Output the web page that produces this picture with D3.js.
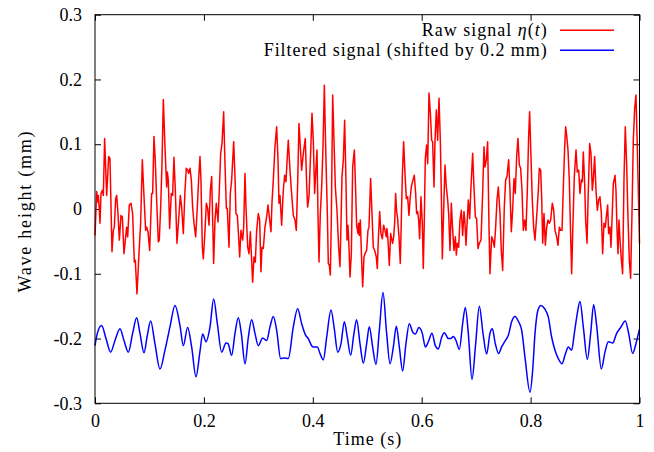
<html>

<head>
  <title>Wave height</title>
  <style>
    body { margin: 0; background: #fff; }
    text { font-family: "Liberation Serif", "DejaVu Serif", serif; fill: #000; }
  </style>
</head>

<body>
  <script src="https://d3js.org/d3.v7.min.js"></script>
  <script>
    // raw signal eta(t): [time (s), height (mm)]
    var rawSignal = [
      [0.0000,-0.041],[0.0031,0.027],[0.0049,0.011],[0.0061,0.021],[0.0080,-0.002],[0.0092,-0.022],[0.0110,0.024],[0.0135,0.029],
      [0.0153,0.021],[0.0177,0.109],[0.0214,0.021],[0.0251,0.081],[0.0275,0.078],[0.0312,-0.066],[0.0337,-0.033],[0.0355,-0.028],
      [0.0379,0.016],[0.0398,0.021],[0.0422,-0.007],[0.0447,-0.048],[0.0477,-0.010],[0.0502,-0.012],[0.0532,-0.069],[0.0557,-0.048],
      [0.0581,-0.028],[0.0600,-0.043],[0.0630,0.006],[0.0661,0.009],[0.0691,-0.007],[0.0722,-0.082],[0.0740,-0.079],[0.0771,-0.131],
      [0.0814,-0.059],[0.0838,-0.022],[0.0869,0.076],[0.0900,0.019],[0.0930,-0.033],[0.0949,-0.028],[0.0973,-0.035],[0.1004,-0.064],
      [0.1040,0.024],[0.1059,0.024],[0.1083,0.112],[0.1108,0.073],[0.1132,0.014],[0.1163,-0.051],[0.1181,-0.048],[0.1206,0.003],
      [0.1230,0.070],[0.1255,0.169],[0.1285,0.096],[0.1316,0.034],[0.1328,0.057],[0.1346,0.045],[0.1371,-0.030],[0.1401,0.024],
      [0.1426,0.021],[0.1450,0.080],[0.1475,0.029],[0.1505,-0.053],[0.1536,-0.017],[0.1567,0.021],[0.1591,0.003],[0.1622,-0.038],
      [0.1653,0.029],[0.1677,0.063],[0.1702,0.060],[0.1720,0.055],[0.1745,0.063],[0.1769,0.045],[0.1793,0.003],[0.1818,-0.022],
      [0.1849,-0.043],[0.1879,0.003],[0.1903,0.045],[0.1928,0.081],[0.1946,0.045],[0.1971,-0.059],[0.1989,-0.077],
      [0.2014,-0.043],[0.2045,0.009],[0.2069,0.001],[0.2094,-0.025],[0.2118,0.029],[0.2143,0.050],[0.2161,-0.017],[0.2179,-0.084],
      [0.2204,-0.017],[0.2228,0.009],[0.2259,-0.020],[0.2283,0.029],[0.2308,0.086],[0.2332,0.101],[0.2363,0.150],[0.2387,0.070],
      [0.2412,0.001],[0.2430,0.001],[0.2461,-0.059],[0.2485,0.024],[0.2510,0.045],[0.2547,0.104],[0.2571,0.050],[0.2589,-0.007],
      [0.2614,-0.010],[0.2638,-0.043],[0.2657,-0.074],[0.2681,-0.033],[0.2712,-0.048],[0.2730,-0.028],[0.2755,0.055],[0.2773,0.003],
      [0.2804,-0.059],[0.2828,-0.069],[0.2853,-0.035],[0.2877,-0.079],[0.2895,-0.113],[0.2920,-0.074],[0.2944,-0.082],[0.2969,-0.033],
      [0.2999,-0.007],[0.3024,-0.017],[0.3048,-0.097],[0.3067,-0.059],[0.3091,-0.061],[0.3122,-0.028],[0.3153,-0.012],[0.3177,0.006],
      [0.3201,-0.012],[0.3232,-0.035],[0.3250,0.009],[0.3275,0.045],[0.3305,0.096],[0.3336,0.127],[0.3361,0.076],[0.3379,0.009],
      [0.3397,0.021],[0.3428,-0.025],[0.3458,0.029],[0.3483,0.052],[0.3507,0.042],[0.3532,0.081],[0.3550,0.106],[0.3581,0.060],
      [0.3611,0.024],[0.3642,-0.010],[0.3673,-0.017],[0.3697,-0.033],[0.3722,0.039],[0.3746,0.132],[0.3771,0.096],[0.3795,0.060],
      [0.3826,0.086],[0.3862,0.109],[0.3887,0.039],[0.3905,0.003],[0.3930,0.019],[0.3960,0.086],[0.3985,0.148],[0.4009,0.106],
      [0.4034,0.024],[0.4053,0.055],[0.4077,0.091],[0.4095,-0.007],[0.4114,-0.082],[0.4138,-0.007],[0.4163,0.034],[0.4187,0.096],
      [0.4212,0.191],[0.4236,0.096],[0.4267,-0.007],[0.4285,-0.084],[0.4304,-0.087],[0.4322,-0.102],[0.4340,-0.017],[0.4365,0.176],
      [0.4389,0.106],[0.4414,0.034],[0.4444,-0.002],[0.4475,-0.059],[0.4499,-0.089],[0.4518,-0.022],[0.4536,0.050],[0.4561,0.076],
      [0.4585,0.137],[0.4610,0.039],[0.4628,-0.048],[0.4646,-0.025],[0.4665,-0.059],[0.4683,-0.105],[0.4708,-0.069],[0.4732,0.065],
      [0.4763,0.091],[0.4787,0.029],[0.4805,-0.025],[0.4830,-0.038],[0.4842,-0.022],[0.4854,-0.041],[0.4873,-0.017],[0.4897,-0.079],
      [0.4916,-0.120],[0.4940,-0.074],[0.4958,-0.069],[0.4989,-0.064],[0.5013,-0.033],[0.5032,-0.028],[0.5062,0.047],[0.5087,-0.007],
      [0.5111,-0.059],[0.5136,-0.064],[0.5166,-0.074],[0.5185,-0.092],[0.5203,-0.048],[0.5228,-0.004],[0.5252,-0.038],[0.5277,-0.046],
      [0.5301,-0.025],[0.5326,-0.033],[0.5350,-0.043],[0.5362,-0.030],[0.5381,-0.048],[0.5405,-0.087],[0.5430,-0.038],[0.5448,-0.046],
      [0.5466,-0.053],[0.5485,-0.043],[0.5503,-0.022],[0.5521,0.024],[0.5540,-0.004],[0.5558,-0.015],[0.5583,-0.043],[0.5607,-0.084],
      [0.5626,-0.017],[0.5644,0.050],[0.5668,0.104],[0.5693,0.055],[0.5717,0.016],[0.5742,0.019],[0.5766,-0.010],[0.5785,0.014],
      [0.5809,0.034],[0.5840,0.045],[0.5864,0.052],[0.5889,0.024],[0.5907,-0.007],[0.5925,-0.004],[0.5944,-0.017],[0.5962,-0.046],
      [0.5987,0.019],[0.6011,-0.022],[0.6029,-0.092],[0.6048,-0.017],[0.6066,0.078],
      [0.6091,0.099],[0.6110,0.070],[0.6134,0.179],[0.6159,0.148],[0.6183,0.106],[0.6201,0.104],[0.6226,0.034],[0.6244,0.106],
      [0.6269,0.153],[0.6293,0.106],[0.6318,0.171],[0.6342,0.106],[0.6361,0.021],[0.6379,-0.077],[0.6403,-0.002],[0.6428,0.068],
      [0.6452,0.034],[0.6477,0.014],[0.6495,-0.007],[0.6520,-0.064],[0.6544,0.009],[0.6569,-0.033],[0.6593,-0.064],[0.6618,-0.043],
      [0.6636,-0.071],[0.6654,-0.053],[0.6679,-0.059],[0.6703,-0.017],[0.6728,-0.002],[0.6752,-0.041],[0.6777,-0.004],[0.6795,-0.022],
      [0.6813,-0.056],[0.6838,-0.015],[0.6856,0.014],[0.6881,-0.015],[0.6905,0.034],[0.6936,0.086],[0.6960,0.034],[0.6985,-0.012],
      [0.7009,-0.015],[0.7034,-0.061],[0.7058,-0.053],[0.7089,-0.048],[0.7119,0.024],[0.7144,0.096],[0.7162,0.065],[0.7187,0.076],
      [0.7211,0.104],[0.7236,-0.028],[0.7254,-0.100],[0.7285,-0.043],[0.7309,-0.048],[0.7334,-0.059],[0.7358,-0.028],[0.7383,0.014],
      [0.7407,0.034],[0.7438,-0.007],[0.7462,-0.064],[0.7487,-0.095],[0.7517,0.003],[0.7542,0.045],[0.7566,0.050],[0.7597,0.076],
      [0.7621,0.029],[0.7646,-0.035],[0.7670,-0.002],[0.7695,0.047],[0.7719,0.024],[0.7744,0.081],[0.7768,0.109],[0.7793,0.068],
      [0.7817,0.063],[0.7842,0.029],[0.7866,-0.033],[0.7891,-0.017],[0.7915,-0.033],[0.7940,0.029],[0.7964,0.112],[0.7982,0.150],
      [0.8007,0.081],[0.8031,0.014],[0.8056,-0.028],[0.8080,-0.048],
      [0.8111,-0.012],[0.8142,0.029],[0.8160,0.063],[0.8185,0.060],[0.8203,0.019],[0.8222,-0.053],[0.8246,-0.007],[0.8271,-0.056],
      [0.8295,-0.028],[0.8320,-0.017],[0.8344,-0.022],[0.8368,-0.017],[0.8399,0.009],[0.8424,-0.002],[0.8448,-0.033],[0.8479,-0.043],
      [0.8503,-0.056],[0.8528,-0.028],[0.8552,-0.033],[0.8577,-0.033],[0.8601,0.034],[0.8626,0.096],[0.8644,0.127],[0.8662,0.114],
      [0.8687,0.091],[0.8711,0.045],[0.8736,-0.043],[0.8754,-0.100],[0.8778,-0.022],[0.8803,0.050],[0.8834,0.091],[0.8858,0.057],
      [0.8883,0.060],[0.8907,0.024],[0.8932,0.045],[0.8950,0.042],[0.8968,0.088],[0.8993,0.039],[0.9011,-0.017],[0.9036,-0.053],
      [0.9060,0.029],[0.9085,0.101],[0.9109,0.086],[0.9133,0.029],[0.9152,0.045],[0.9176,0.081],[0.9201,0.029],[0.9225,-0.002],
      [0.9250,0.014],[0.9274,0.019],[0.9299,-0.007],[0.9323,-0.069],[0.9348,-0.022],[0.9372,-0.028],[0.9391,-0.012],[0.9415,0.006],
      [0.9433,-0.038],[0.9458,-0.028],[0.9476,-0.059],[0.9495,-0.017],[0.9519,0.039],[0.9550,0.052],[0.9568,0.029],[0.9586,-0.028],
      [0.9605,-0.069],[0.9623,-0.017],[0.9641,-0.046],[0.9666,-0.077],[0.9690,-0.100],[0.9715,0.045],[0.9739,0.127],[0.9764,0.070],
      [0.9788,-0.012],[0.9813,-0.079],[0.9837,-0.107],[0.9862,-0.007],[0.9886,0.106],[0.9911,0.155],[0.9935,0.176],[0.9960,0.096],
      [1.0000,-0.053]
    ];

    // filtered signal before the 0.2 mm shift: [time (s), height (mm)]
    var filteredSignal = [
      [0.0000,-0.011],[0.0043,0.008],[0.0122,0.020],[0.0202,0.000],[0.0287,-0.021],[0.0367,-0.003],[0.0459,0.015],[0.0532,-0.003],
      [0.0612,-0.021],[0.0691,0.008],[0.0765,0.032],[0.0826,0.008],[0.0900,-0.022],[0.0961,0.005],[0.1022,0.027],[0.1101,-0.008],
      [0.1193,-0.047],[0.1285,-0.018],[0.1377,0.018],[0.1469,0.051],[0.1561,0.020],[0.1622,-0.011],[0.1701,0.017],[0.1775,-0.013],
      [0.1854,-0.059],[0.1928,-0.020],[0.1977,0.007],[0.2039,-0.005],[0.2112,0.018],[0.2179,0.061],[0.2247,0.023],[0.2326,-0.021],
      [0.2406,-0.007],[0.2443,-0.008],[0.2510,-0.026],[0.2571,0.008],[0.2632,0.032],[0.2687,0.008],[0.2755,-0.039],[0.2816,0.002],
      [0.2877,0.029],[0.2938,0.008],[0.2999,-0.011],[0.3079,0.001],[0.3153,-0.003],[0.3214,0.018],[0.3275,0.034],[0.3336,0.013],
      [0.3409,-0.031],[0.3471,-0.030],[0.3550,-0.031],[0.3642,0.018],[0.3722,0.046],[0.3795,0.023],[0.3869,0.005],[0.3917,0.000],
      [0.3979,-0.011],[0.4010,-0.013],[0.4083,-0.013],[0.4132,-0.023],[0.4193,-0.033],[0.4255,0.002],[0.4334,0.044],[0.4395,0.015],
      [0.4457,-0.021],[0.4518,-0.008],[0.4579,0.026],[0.4634,0.002],[0.4695,-0.026],[0.4756,0.008],[0.4805,0.029],[0.4867,-0.008],
      [0.4928,-0.038],[0.4989,-0.008],[0.5038,0.018],[0.5099,-0.013],[0.5160,-0.040],[0.5222,0.013],[0.5289,0.071],[0.5356,0.008],
      [0.5418,-0.039],[0.5479,-0.013],[0.5534,0.019],[0.5589,-0.013],[0.5650,-0.050],[0.5711,-0.008],[0.5772,0.023],[0.5834,0.010],
      [0.5883,0.007],[0.5950,0.017],[0.6011,0.008],[0.6067,-0.013],[0.6122,-0.005],[0.6189,0.008],[0.6250,-0.011],[0.6305,-0.016],
      [0.6367,0.002],[0.6416,0.009],[0.6489,0.000],[0.6532,0.000],[0.6581,0.003],[0.6630,-0.003],[0.6691,-0.017],[0.6752,0.023],
      [0.6801,0.048],[0.6856,0.008],[0.6924,-0.063],[0.6991,-0.008],[0.7058,0.050],[0.7126,0.008],[0.7193,-0.024],[0.7254,0.008],
      [0.7297,0.015],[0.7352,-0.008],[0.7413,-0.023],[0.7468,-0.013],[0.7530,-0.004],[0.7591,0.005],[0.7652,0.026],[0.7713,0.034],
      [0.7780,0.026],[0.7836,0.013],[0.7897,-0.029],[0.7989,-0.083],[0.8038,-0.049],[0.8081,0.008],[0.8136,0.044],[0.8191,0.051],
      [0.8258,0.046],[0.8326,0.033],[0.8387,0.002],[0.8448,-0.018],[0.8509,-0.031],[0.8577,-0.039],[0.8638,-0.024],[0.8693,-0.013],
      [0.8754,-0.018],[0.8803,0.008],[0.8858,0.039],[0.8907,0.057],[0.8968,0.018],[0.9042,-0.032],[0.9103,0.008],[0.9158,0.052],
      [0.9213,0.020],[0.9299,-0.047],[0.9366,-0.021],[0.9427,-0.005],[0.9507,-0.007],[0.9580,0.008],[0.9654,0.017],[0.9739,0.027],
      [0.9801,0.008],[0.9874,-0.023],[0.9935,-0.008],[1.0000,0.015]
    ];
    var shift = 0.2;

    var xTicks = [0, 0.2, 0.4, 0.6, 0.8, 1];
    var yTicks = [-0.3, -0.2, -0.1, 0, 0.1, 0.2, 0.3];
    var legendLabels = ["Raw signal", "Filtered signal (shifted by 0.2 mm)"];
    var colors = ["#ff0000", "#0000ff"];

    var margin = { top: 14.7, right: 14.5, bottom: 48.7, left: 95 };
    var width = 654 - margin.left - margin.right;
    var height = 452 - margin.top - margin.bottom;

    var svg = d3.select("body")
      .append("svg")
      .attr("width", 654)
      .attr("height", 452)
      .append("g")
      .attr("transform", "translate(" + margin.left + "," + margin.top + ")");

    var x = d3.scaleLinear().domain([0, 1]).range([0, width]);
    var y = d3.scaleLinear().domain([-0.3, 0.3]).range([height, 0]);
    var fmt = function (d) { return String(+d.toFixed(1)); };

    // ticks point inwards on all four sides, like gnuplot
    svg.append("g")
      .attr("transform", "translate(0," + height + ")")
      .call(d3.axisBottom(x).tickValues(xTicks).tickFormat(fmt).tickSizeInner(-6).tickSizeOuter(0).tickPadding(11));
    svg.append("g")
      .call(d3.axisTop(x).tickValues(xTicks).tickFormat("").tickSizeInner(-6).tickSizeOuter(0));
    svg.append("g")
      .call(d3.axisLeft(y).tickValues(yTicks).tickFormat(fmt).tickSizeInner(-6).tickSizeOuter(0).tickPadding(13));
    svg.append("g")
      .attr("transform", "translate(" + width + ",0)")
      .call(d3.axisRight(y).tickValues(yTicks).tickFormat("").tickSizeInner(-6).tickSizeOuter(0));

    svg.selectAll(".tick text")
      .style("font-family", "'Liberation Serif', serif")
      .style("font-size", "18px");
    svg.selectAll(".domain").remove();
    svg.selectAll(".tick line").attr("stroke", "#000");

    var line = d3.line()
      .x(function (d) { return x(d[0]); })
      .y(function (d) { return y(d[1]); });

    svg.append("path")
      .datum(rawSignal)
      .attr("fill", "none")
      .attr("stroke", colors[0])
      .attr("stroke-width", 1.5)
      .attr("stroke-linejoin", "round")
      .attr("d", line);

    var smooth = d3.line()
      .x(function (d) { return x(d[0]); })
      .y(function (d) { return y(d[1] - shift); })
      .curve(d3.curveMonotoneX);

    svg.append("path")
      .datum(filteredSignal)
      .attr("fill", "none")
      .attr("stroke", colors[1])
      .attr("stroke-width", 1.5)
      .attr("d", smooth);

    svg.append("rect")
      .attr("width", width)
      .attr("height", height)
      .attr("fill", "none")
      .attr("stroke", "#000")
      .attr("stroke-width", 1);

    // legend, top right
    var legend = svg.append("g").attr("transform", "translate(" + (width - 92.8) + ",15.6)");
    var raw = legend.append("text")
      .attr("x", 0).attr("y", 0).attr("dy", "0.3em")
      .attr("text-anchor", "end")
      .attr("textLength", 125)
      .attr("lengthAdjust", "spacing")
      .style("font-size", "18px");
    raw.append("tspan").text(legendLabels[0] + " ");
    raw.append("tspan").style("font-style", "italic").text("η");
    raw.append("tspan").text("(");
    raw.append("tspan").style("font-style", "italic").text("t");
    raw.append("tspan").text(")");

    legend.append("text")
      .attr("x", 0).attr("y", 20).attr("dy", "0.3em")
      .attr("text-anchor", "end")
      .attr("textLength", 283)
      .attr("lengthAdjust", "spacing")
      .style("font-size", "18px")
      .text(legendLabels[1]);

    legend.selectAll("line")
      .data(colors)
      .enter()
      .append("line")
      .attr("x1", 13.3).attr("x2", 67.3)
      .attr("y1", function (d, i) { return i * 20; })
      .attr("y2", function (d, i) { return i * 20; })
      .attr("stroke", function (d) { return d; })
      .attr("stroke-width", 1.5);

    svg.append("text")
      .attr("x", width / 2)
      .attr("y", height + 41.5)
      .attr("text-anchor", "middle")
      .attr("textLength", 68)
      .attr("lengthAdjust", "spacing")
      .style("font-size", "18px")
      .text("Time (s)");

    svg.append("text")
      .attr("transform", "rotate(-90)")
      .attr("x", -197.3)
      .attr("y", -64)
      .attr("text-anchor", "middle")
      .attr("textLength", 161)
      .attr("lengthAdjust", "spacing")
      .style("font-size", "18px")
      .text("Wave height (mm)");
  </script>
</body>

</html>
